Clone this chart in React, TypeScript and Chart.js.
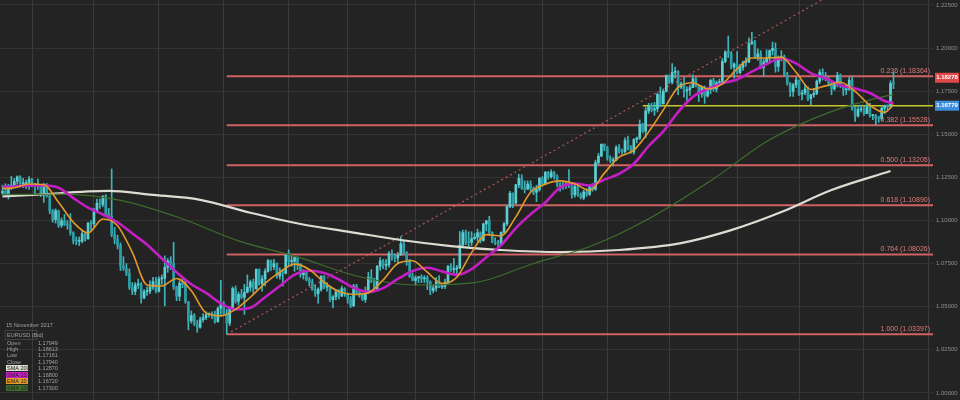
import React, { useEffect, useRef } from 'react';
import { Chart, registerables } from 'chart.js';

Chart.register(...registerables);

// ---- Price data: EURUSD daily, 19 Sep 2016 .. 15 Nov 2017 (one entry per trading day) ----
const FIRST_OPEN = 1.1160;
const closes = [
  1.1170,1.1153,1.1188,1.1205,1.1227, 1.1254,1.1213,1.1214,1.1220,1.1240,
  1.1210,1.1205,1.1204,1.1152,1.1200, 1.1144,1.1055,1.1005,1.1057,1.0972,
  1.0999,1.0976,1.0973,1.0929,1.0882, 1.0880,1.0880,1.0922,1.0895,1.0985,
  1.0981,1.1055,1.1100,1.1093,1.1142, 1.1040,1.1025,1.0918,1.0893,1.0856,
  1.0735,1.0722,1.0693,1.0612,1.0589, 1.0627,1.0631,1.0551,1.0588,1.0590,
  1.0615,1.0645,1.0590,1.0662,1.0665, 1.0728,1.0766,1.0751,1.0614,1.0561,
  1.0636,1.0628,1.0530,1.0418,1.0449, 1.0399,1.0381,1.0425,1.0437,1.0454,
  1.0456,1.0455,1.0413,1.0491,1.0517, 1.0458,1.0405,1.0490,1.0605,1.0531,
  1.0572,1.0555,1.0584,1.0613,1.0643, 1.0605,1.0717,1.0633,1.0661,1.0705,
  1.0767,1.0732,1.0750,1.0678,1.0697, 1.0694,1.0798,1.0763,1.0763,1.0785,
  1.0748,1.0686,1.0698,1.0656,1.0640, 1.0600,1.0575,1.0600,1.0677,1.0614,
  1.0616,1.0541,1.0557,1.0586,1.0561, 1.0605,1.0576,1.0545,1.0506,1.0620,
  1.0583,1.0567,1.0542,1.0580,1.0671, 1.0654,1.0603,1.0734,1.0766,1.0740,
  1.0744,1.0808,1.0797,1.0782,1.0799, 1.0865,1.0815,1.0768,1.0676,1.0652,
  1.0667,1.0674,1.0662,1.0667,1.0643, 1.0594,1.0608,1.0645,1.0615,1.0618,
  1.0642,1.0733,1.0715,1.0717,1.0726, 1.0857,1.0930,1.0874,1.0873,1.0895,
  1.0903,1.0929,1.0884,1.0980,1.0998, 1.0931,1.0877,1.0867,1.0865,1.0932,
  1.0981,1.1081,1.1158,1.1101,1.1207, 1.1244,1.1189,1.1182,1.1212,1.1186,
  1.1164,1.1180,1.1244,1.1214,1.1279, 1.1254,1.1279,1.1257,1.1211,1.1196,
  1.1203,1.1212,1.1216,1.1150,1.1197, 1.1149,1.1132,1.1166,1.1152,1.1195,
  1.1181,1.1335,1.1374,1.1442,1.1426, 1.1363,1.1347,1.1350,1.1423,1.1401,
  1.1400,1.1464,1.1416,1.1397,1.1470, 1.1478,1.1557,1.1518,1.1635,1.1666,
  1.1641,1.1648,1.1731,1.1677,1.1750, 1.1840,1.1802,1.1859,1.1865,1.1773,
  1.1793,1.1751,1.1758,1.1771,1.1822, 1.1780,1.1736,1.1774,1.1722,1.1760,
  1.1813,1.1762,1.1799,1.1800,1.1923, 1.1978,1.1968,1.1890,1.1908,1.1858,
  1.1888,1.1918,1.1920,1.2027,1.2036, 1.1950,1.1967,1.1887,1.1920,1.1942,
  1.1986,1.1998,1.1894,1.1940,1.1951, 1.1846,1.1795,1.1748,1.1787,1.1815,
  1.1733,1.1740,1.1763,1.1707,1.1730, 1.1738,1.1808,1.1859,1.1832,1.1822,
  1.1795,1.1764,1.1787,1.1842,1.1785, 1.1758,1.1761,1.1814,1.1653,1.1606,
  1.1643,1.1646,1.1620,1.1659,1.1609, 1.1609,1.1593,1.1591,1.1651,1.1665,
  1.1664,1.1795,1.1794,
];
const highs = [
  1.1205,1.1213,1.1210,1.1256,1.1245, 1.1259,1.1260,1.1245,1.1235,1.1255,
  1.1245,1.1215,1.1240,1.1210,1.1215, 1.1215,1.1150,1.1065,1.1068,1.1060,
  1.1015,1.1035,1.1000,1.1040,1.0935, 1.0905,1.0905,1.0945,1.0930,1.0990,
  1.1000,1.1070,1.1125,1.1125,1.1145, 1.1150,1.1070,1.1299,1.0960,1.0915,
  1.0870,1.0790,1.0750,1.0720,1.0640, 1.0640,1.0660,1.0640,1.0600,1.0615,
  1.0650,1.0670,1.0670,1.0675,1.0685, 1.0795,1.0780,1.0790,1.0874,1.0620,
  1.0650,1.0670,1.0650,1.0530,1.0475, 1.0460,1.0420,1.0440,1.0460,1.0470,
  1.0465,1.0470,1.0475,1.0500,1.0653, 1.0530,1.0485,1.0500,1.0615,1.0620,
  1.0585,1.0600,1.0630,1.0685,1.0655, 1.0660,1.0720,1.0720,1.0680,1.0720,
  1.0775,1.0770,1.0775,1.0755,1.0725, 1.0710,1.0810,1.0830,1.0800,1.0790,
  1.0785,1.0750,1.0715,1.0710,1.0670, 1.0660,1.0625,1.0610,1.0680,1.0680,
  1.0640,1.0620,1.0565,1.0600,1.0600, 1.0620,1.0610,1.0580,1.0560,1.0630,
  1.0630,1.0600,1.0580,1.0615,1.0700, 1.0715,1.0665,1.0740,1.0785,1.0775,
  1.0775,1.0820,1.0830,1.0805,1.0815, 1.0906,1.0880,1.0820,1.0775,1.0695,
  1.0680,1.0675,1.0685,1.0680,1.0680, 1.0650,1.0625,1.0670,1.0680,1.0630,
  1.0660,1.0740,1.0750,1.0780,1.0740, 1.0937,1.0945,1.0945,1.0935,1.0935,
  1.0925,1.0950,1.0935,1.0985,1.1000, 1.1025,1.0935,1.0900,1.0885,1.0935,
  1.0990,1.1090,1.1170,1.1160,1.1210, 1.1268,1.1265,1.1230,1.1230,1.1230,
  1.1195,1.1205,1.1250,1.1255,1.1285, 1.1285,1.1295,1.1285,1.1265,1.1220,
  1.1225,1.1225,1.1295,1.1220,1.1210, 1.1205,1.1160,1.1175,1.1185,1.1200,
  1.1215,1.1350,1.1390,1.1445,1.1445, 1.1430,1.1375,1.1365,1.1435,1.1440,
  1.1415,1.1480,1.1490,1.1435,1.1475, 1.1485,1.1583,1.1565,1.1655,1.1680,
  1.1680,1.1685,1.1740,1.1775,1.1760, 1.1845,1.1845,1.1910,1.1890,1.1870,
  1.1805,1.1830,1.1775,1.1785,1.1845, 1.1830,1.1785,1.1780,1.1780,1.1770,
  1.1820,1.1825,1.1810,1.1820,1.1940, 1.1985,1.2070,1.1980,1.1915,1.1980,
  1.1905,1.1925,1.1945,1.2060,1.2092, 1.2045,1.1995,1.1985,1.1935,1.1990,
  1.1990,1.2035,1.2030,1.1955,1.1985, 1.1960,1.1860,1.1800,1.1795,1.1830,
  1.1815,1.1755,1.1790,1.1775,1.1730, 1.1765,1.1815,1.1875,1.1880,1.1860,
  1.1830,1.1800,1.1795,1.1860,1.1850, 1.1785,1.1790,1.1830,1.1837,1.1665,
  1.1665,1.1670,1.1665,1.1685,1.1680, 1.1615,1.1615,1.1605,1.1665,1.1670,
  1.1670,1.1810,1.1861,
];
const lows = [
  1.1150,1.1145,1.1125,1.1180,1.1195, 1.1210,1.1195,1.1190,1.1185,1.1180,
  1.1195,1.1150,1.1180,1.1140,1.1105, 1.1135,1.1040,1.0990,1.0985,1.0960,
  1.0960,1.0970,1.0950,1.0915,1.0865, 1.0860,1.0855,1.0870,1.0880,1.0890,
  1.0945,1.0965,1.1045,1.1070,1.1080, 1.1025,1.1015,1.0906,1.0865,1.0835,
  1.0710,1.0710,1.0680,1.0600,1.0570, 1.0570,1.0605,1.0520,1.0545,1.0565,
  1.0575,1.0600,1.0580,1.0585,1.0630, 1.0505,1.0700,1.0715,1.0600,1.0535,
  1.0535,1.0610,1.0520,1.0366,1.0405, 1.0390,1.0352,1.0375,1.0410,1.0425,
  1.0440,1.0430,1.0405,1.0410,1.0455, 1.0450,1.0340,1.0390,1.0485,1.0520,
  1.0510,1.0545,1.0455,1.0580,1.0590, 1.0580,1.0600,1.0625,1.0590,1.0620,
  1.0700,1.0710,1.0715,1.0665,1.0660, 1.0620,1.0690,1.0740,1.0735,1.0705,
  1.0715,1.0670,1.0660,1.0650,1.0620, 1.0595,1.0560,1.0520,1.0590,1.0605,
  1.0590,1.0530,1.0495,1.0540,1.0545, 1.0560,1.0560,1.0520,1.0495,1.0500,
  1.0575,1.0555,1.0535,1.0525,1.0575, 1.0640,1.0600,1.0595,1.0710,1.0720,
  1.0715,1.0730,1.0770,1.0760,1.0755, 1.0800,1.0800,1.0740,1.0670,1.0650,
  1.0625,1.0640,1.0640,1.0640,1.0600, 1.0570,1.0580,1.0590,1.0610,1.0605,
  1.0605,1.0630,1.0705,1.0695,1.0685, 1.0720,1.0850,1.0860,1.0850,1.0855,
  1.0890,1.0880,1.0870,1.0880,1.0940, 1.0920,1.0870,1.0860,1.0840,1.0860,
  1.0925,1.0970,1.1075,1.1075,1.1095, 1.1190,1.1180,1.1160,1.1180,1.1170,
  1.1150,1.1110,1.1170,1.1200,1.1210, 1.1240,1.1245,1.1240,1.1195,1.1170,
  1.1180,1.1185,1.1190,1.1130,1.1135, 1.1140,1.1125,1.1120,1.1140,1.1145,
  1.1170,1.1175,1.1325,1.1370,1.1405, 1.1350,1.1335,1.1315,1.1345,1.1390,
  1.1385,1.1390,1.1410,1.1390,1.1385, 1.1450,1.1470,1.1510,1.1480,1.1620,
  1.1630,1.1610,1.1630,1.1660,1.1675, 1.1745,1.1795,1.1795,1.1825,1.1730,
  1.1765,1.1715,1.1690,1.1725,1.1770, 1.1775,1.1690,1.1715,1.1680,1.1715,
  1.1735,1.1750,1.1745,1.1785,1.1790, 1.1915,1.1945,1.1880,1.1825,1.1850,
  1.1850,1.1870,1.1895,1.1915,1.2020, 1.1940,1.1930,1.1880,1.1835,1.1905,
  1.1920,1.1960,1.1860,1.1865,1.1925, 1.1840,1.1785,1.1720,1.1720,1.1770,
  1.1725,1.1700,1.1730,1.1695,1.1670, 1.1715,1.1730,1.1795,1.1815,1.1810,
  1.1780,1.1730,1.1755,1.1775,1.1770, 1.1725,1.1730,1.1755,1.1640,1.1575,
  1.1600,1.1630,1.1610,1.1620,1.1600, 1.1585,1.1554,1.1570,1.1580,1.1620,
  1.1640,1.1650,1.1765,
];

const ema10Idx = [0,4,9,14,19,24,29,34,39,44,49,54,59,64,69,74,79,84,89,94,99,104,109,114,119,124,129,134,139,144,149,154,159,164,169,174,179,184,189,194,199,204,209,214,219,224,229,234,239,244,249,254,259,264,269,274,279,284,289,294,299,302];
const ema10Val = [1.1185,1.1190,1.1212,1.1208,1.1106,1.0990,1.0928,1.1009,1.0970,1.0815,1.0626,1.0620,1.0664,1.0593,1.0464,1.0447,1.0485,1.0555,1.0636,1.0701,1.0747,1.0716,1.0642,1.0588,1.0571,1.0581,1.0655,1.0751,1.0767,1.0700,1.0635,1.0671,1.0814,1.0918,1.0912,1.1021,1.1164,1.1211,1.1230,1.1213,1.1174,1.1275,1.1367,1.1408,1.1514,1.1642,1.1772,1.1799,1.1764,1.1793,1.1880,1.1943,1.1943,1.1946,1.1860,1.1760,1.1781,1.1802,1.1749,1.1668,1.1627,1.1672];

const sma21Idx = [0,4,9,14,19,24,29,34,39,44,49,54,59,64,69,74,79,84,89,94,99,104,109,114,119,124,129,134,139,144,149,154,159,164,169,174,179,184,189,194,199,204,209,214,219,224,229,234,239,244,249,254,259,264,269,274,279,284,289,294,299,302];
const sma21Val = [1.1195,1.1197,1.1204,1.1203,1.1190,1.1130,1.1075,1.1035,1.0990,1.0925,1.0860,1.0780,1.0700,1.0630,1.0580,1.0520,1.0485,1.0494,1.0555,1.0620,1.0686,1.0709,1.0696,1.0658,1.0610,1.0586,1.0608,1.0661,1.0707,1.0726,1.0705,1.0685,1.0718,1.0787,1.0857,1.0956,1.1036,1.1105,1.1191,1.1214,1.1203,1.1237,1.1271,1.1329,1.1432,1.1517,1.1629,1.1717,1.1763,1.1795,1.1818,1.1863,1.1908,1.1941,1.1911,1.1855,1.1825,1.1785,1.1765,1.1740,1.1693,1.1680];

const sma100Idx = [0,20,40,60,80,100,120,140,160,180,200,220,240,260,280,300,302];
const sma100Val = [1.1150,1.1153,1.1117,1.1016,1.0882,1.0789,1.0678,1.0626,1.0640,1.0751,1.0855,1.1019,1.1230,1.1468,1.1626,1.1724,1.1730];

const sma200Idx = [0,10,36,50,67,84,101,118,135,152,169,189,209,230,247,264,281,301];
const sma200Val = [1.1140,1.1148,1.1172,1.1150,1.1120,1.1045,1.0980,1.0933,1.0887,1.0852,1.0829,1.0817,1.0829,1.0869,1.0944,1.1049,1.1177,1.1287];

// ---- Drawing-tool levels ----
const fibRatios = ['0.236', '0.382', '0.500', '0.618', '0.764', '1.000'];
const fibLevels = [1.18364, 1.15528, 1.13205, 1.10890, 1.08026, 1.03397];
const fibStartIdx = 76;
const trendIdx = [76, 330];
const trendVal = [1.0340, 1.2781];
const yellowIdx = [217, 316];
const yellowLevel = 1.1665;

// ---- Axes ----
const monthGridIdx = [10, 31, 53, 75, 97, 117, 140, 160, 183, 205, 226, 249, 270, 292, 314];
const yTickValues = [1.0, 1.025, 1.05, 1.075, 1.1, 1.125, 1.15, 1.175, 1.2, 1.225];
const X_MIN = -0.85;
const X_MAX = 315.4;
const Y_MIN = 0.9959;
const Y_MAX = 1.2279;

// ---- Price tags / info block ----
const tagValues = ['1.18278', '1.16779'];
const tagPrices = [1.1828, 1.1666];
const infoDate = '15 November 2017';
const infoSymbol = 'EURUSD (Bid)';
const ohlcLabels = ['Open', 'High', 'Low', 'Close'];
const ohlcValues = ['1.17949', '1.18613', '1.17161', '1.17940'];
const maLabels = ['SMA 200', 'SMA 21', 'EMA 10', 'SMA 100'];
const maValues = ['1.12870', '1.16800', '1.16720', '1.17300'];

const BG = '#232323';
const FONT = '"Liberation Sans", Arial, sans-serif';
const C_SMA200 = '#dcdcd2';
const C_SMA21 = '#c41fc4';
const C_EMA10 = '#e39a2a';
const C_SMA100 = '#3f6e2c';
const C_FIB = '#cf6262';

const pts = (xs: number[], ys: number[]) => xs.map((x, i) => ({ x, y: ys[i] }));

export default function App() {
  const ref = useRef<HTMLCanvasElement>(null);

  useEffect(() => {
    document.body.style.margin = '0';
    document.body.style.background = BG;
    const canvas = ref.current;
    if (!canvas) return;

    const opens = closes.map((_, i) => (i === 0 ? FIRST_OPEN : closes[i - 1]));
    const bodies = closes.map((c, i) => ({ x: i, y: [opens[i], c] }));
    const wicks = closes.map((c, i) => ({
      x: i,
      y: [Math.min(lows[i], opens[i], c), Math.max(highs[i], opens[i], c)],
    }));
    const bodyColors = closes.map((c, i) => (c >= opens[i] ? '#5ccdd1' : '#2b9ea6'));

    const lineDs = (label: string, data: any[], color: string, width: number, order: number, extra: any = {}) => ({
      type: 'line' as const,
      label,
      data,
      borderColor: color,
      backgroundColor: color,
      borderWidth: width,
      pointRadius: 0,
      fill: false,
      order,
      ...extra,
    });

    const fibDatasets = fibLevels.map((lv, i) =>
      lineDs('fib' + fibRatios[i], [{ x: fibStartIdx, y: lv }, { x: X_MAX, y: lv }], C_FIB, 2, 20)
    );

    const overlay = {
      id: 'overlay',
      beforeDraw(chart: any) {
        const c = chart.ctx;
        c.save();
        c.fillStyle = BG;
        c.fillRect(0, 0, chart.width, chart.height);
        c.restore();
      },
      afterDraw(chart: any) {
        const c = chart.ctx;
        const ys = chart.scales.y;
        const area = chart.chartArea;
        c.save();
        // fib labels
        c.font = '7px ' + FONT;
        c.textAlign = 'right';
        c.textBaseline = 'bottom';
        c.fillStyle = '#e07a7a';
        fibLevels.forEach((lv, i) => {
          const py = ys.getPixelForValue(lv);
          c.fillText(`${fibRatios[i]} (${lv.toFixed(5)})`, area.right - 3, py - 2);
        });
        // price tags
        const tagColors = ['#e04848', '#3d8fdc'];
        c.font = 'bold 6px ' + FONT;
        c.textAlign = 'center';
        c.textBaseline = 'middle';
        tagPrices.forEach((p, i) => {
          const py = ys.getPixelForValue(p);
          c.fillStyle = tagColors[i];
          c.fillRect(area.right + 2, py - 5, 24, 10);
          c.fillStyle = '#ffffff';
          c.fillText(tagValues[i], area.right + 14, py);
        });
        // info block
        c.textAlign = 'left';
        c.textBaseline = 'middle';
        c.font = '5.5px ' + FONT;
        c.fillStyle = '#a0a0a0';
        c.fillText(infoDate, 6, 325);
        c.strokeStyle = '#555';
        c.lineWidth = 0.6;
        c.strokeRect(5, 330.5, 32, 9);
        c.fillText(infoSymbol, 7, 335);
        const rowsY = [343, 349, 355, 362];
        ohlcLabels.forEach((lb, i) => {
          c.fillStyle = '#a0a0a0';
          c.fillText(lb, 7, rowsY[i]);
          c.fillText(ohlcValues[i], 38, rowsY[i]);
        });
        const maY = [368, 375, 381, 388];
        const maBox = [C_SMA200, C_SMA21, C_EMA10, C_SMA100];
        const maText = ['#222', '#222', '#222', '#222'];
        maLabels.forEach((lb, i) => {
          c.fillStyle = maBox[i];
          c.fillRect(6, maY[i] - 3, 22, 6);
          c.fillStyle = maText[i];
          c.fillText(lb, 7, maY[i]);
          c.fillStyle = '#a0a0a0';
          c.fillText(maValues[i], 38, maY[i]);
        });
        c.restore();
      },
    };

    const chart = new Chart(canvas, {
      type: 'bar',
      data: {
        datasets: [
          lineDs('EMA 10', pts(ema10Idx, ema10Val), C_EMA10, 1.6, 1, { cubicInterpolationMode: 'monotone' }),
          lineDs('SMA 21', pts(sma21Idx, sma21Val), C_SMA21, 2.6, 2, { cubicInterpolationMode: 'monotone' }),
          lineDs('SMA 100', pts(sma100Idx, sma100Val), C_SMA100, 1.2, 3, { cubicInterpolationMode: 'monotone' }),
          lineDs('SMA 200', pts(sma200Idx, sma200Val), C_SMA200, 2.2, 4, { cubicInterpolationMode: 'monotone' }),
          {
            type: 'bar' as const,
            label: 'body',
            data: bodies as any,
            backgroundColor: bodyColors,
            borderWidth: 0,
            barThickness: 2,
            minBarLength: 1,
            grouped: false,
            order: 5,
          },
          {
            type: 'bar' as const,
            label: 'wick',
            data: wicks as any,
            backgroundColor: '#3fb4ba',
            borderWidth: 0,
            barThickness: 1,
            grouped: false,
            order: 6,
          },
          lineDs('yellow', pts(yellowIdx, [yellowLevel, yellowLevel]), '#c9c829', 1.5, 10),
          lineDs('trend', pts(trendIdx, trendVal), '#b05858', 1.2, 11, { borderDash: [2, 3] }),
          ...fibDatasets,
        ] as any,
      },
      options: {
        responsive: false,
        animation: false,
        events: [],
        layout: { padding: 0 },
        plugins: { legend: { display: false }, tooltip: { enabled: false } },
        scales: {
          x: {
            type: 'linear',
            min: X_MIN,
            max: X_MAX,
            offset: false,
            grid: { color: '#3a3a3a', lineWidth: 1, drawTicks: false, offset: false },
            border: { display: false },
            ticks: { display: false },
            afterBuildTicks: (s: any) => {
              s.ticks = monthGridIdx.map((v) => ({ value: v }));
            },
            afterFit: (s: any) => {
              s.height = 0;
              s.paddingLeft = 0;
              s.paddingRight = 0;
            },
          },
          y: {
            type: 'linear',
            position: 'right',
            min: Y_MIN,
            max: Y_MAX,
            grid: { color: '#333333', lineWidth: 1, drawTicks: false },
            border: { display: false },
            ticks: {
              color: '#8e8e8e',
              font: { size: 6, family: FONT },
              padding: 3,
              callback: (v: any) => Number(v).toFixed(5),
            },
            afterBuildTicks: (s: any) => {
              s.ticks = yTickValues.map((v) => ({ value: v }));
            },
            afterFit: (s: any) => {
              s.width = 27;
              s.paddingTop = 0;
              s.paddingBottom = 0;
            },
          },
        },
      } as any,
      plugins: [overlay],
    });

    return () => chart.destroy();
  }, []);

  return (
    <div style={{ width: 960, height: 400 }}>
      <canvas ref={ref} width={960} height={400} style={{ display: 'block', width: 960, height: 400 }} />
    </div>
  );
}
